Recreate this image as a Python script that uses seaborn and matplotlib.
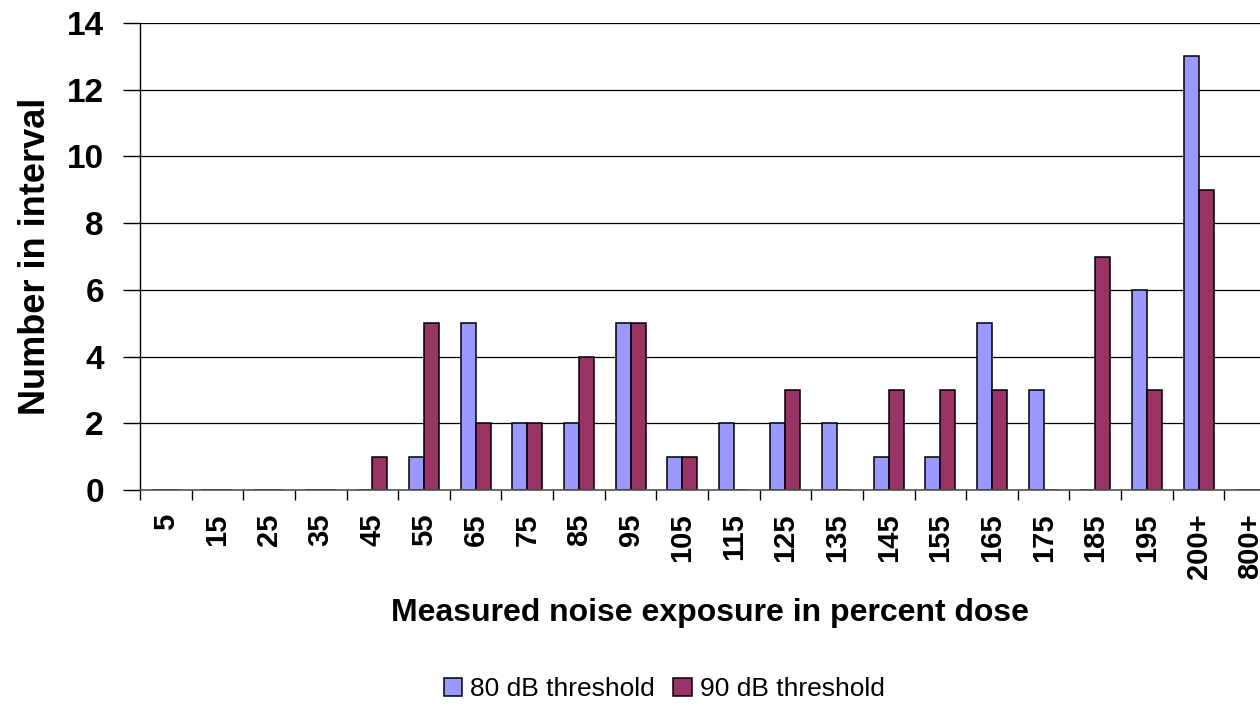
import pandas as pd
import matplotlib
matplotlib.use("Agg")
import matplotlib.pyplot as plt
import seaborn as sns

# data
categories = ["5", "15", "25", "35", "45", "55", "65", "75", "85", "95", "105",
              "115", "125", "135", "145", "155", "165", "175", "185", "195",
              "200+", "800+"]
dose_80 = [0, 0, 0, 0, 0, 1, 5, 2, 2, 5, 1, 2, 2, 2, 1, 1, 5, 3, 0, 6, 13, 0]
dose_90 = [0, 0, 0, 0, 1, 5, 2, 2, 4, 5, 1, 0, 3, 0, 3, 3, 3, 0, 7, 3, 9, 0]
series = ["80 dB threshold", "90 dB threshold"]
colors = ["#9999FF", "#993366"]

df = pd.DataFrame({
    "Interval": categories * 2,
    "Count": dose_80 + dose_90,
    "Threshold": [series[0]] * len(categories) + [series[1]] * len(categories),
})

sns.set_style("white")
plt.rcParams["font.family"] = ["Liberation Sans", "DejaVu Sans"]
plt.rcParams["text.color"] = "black"
plt.rcParams["axes.labelcolor"] = "black"
plt.rcParams["xtick.color"] = "black"
plt.rcParams["ytick.color"] = "black"

fig = plt.figure(figsize=(12.6, 7.13), dpi=100)
# plot area runs off the right edge, like the original
ax = fig.add_axes([140 / 1260, 1 - 490 / 713, (1276 - 140) / 1260, 467 / 713])

sns.barplot(data=df, x="Interval", y="Count", hue="Threshold",
            palette=colors, width=0.58, edgecolor="black", linewidth=1.1,
            saturation=1, ax=ax)

ax.set_ylim(0, 14)
ax.set_xlim(-0.5, len(categories) - 0.5)
ax.set_yticks(range(0, 15, 2))
ax.yaxis.grid(True, color="black", linewidth=0.9)
ax.set_axisbelow(True)
for s in ["top", "right"]:
    ax.spines[s].set_visible(False)
ax.spines["left"].set_color("black")
ax.spines["left"].set_linewidth(1.0)
ax.spines["bottom"].set_color("#555555")
ax.spines["bottom"].set_linewidth(1.2)

# ticks sit between the categories
ax.set_xticks([i - 0.5 for i in range(len(categories) + 1)], minor=True)
ax.tick_params(axis="x", which="minor", length=7, width=1, color="black",
               direction="out", bottom=True)
ax.tick_params(axis="x", which="major", length=0, pad=17)
ax.tick_params(axis="y", length=12, width=1, color="black", direction="out",
               left=True, pad=14)
ax.set_xticks(range(len(categories)))
ax.set_xticklabels(categories, rotation=90, fontsize=21, fontweight="bold",
                   va="top", ha="center")
for lab in ax.get_yticklabels():
    lab.set_fontsize(24)
    lab.set_fontweight("bold")

ax.set_xlabel("")
fig.text(710 / 1260, 1 - 613 / 713, "Measured noise exposure in percent dose",
         fontsize=23, fontweight="bold", ha="center", va="center")
ax.set_ylabel("Number in interval", fontsize=26, fontweight="bold", labelpad=10)

handles, labels = ax.get_legend_handles_labels()
ax.legend(handles, labels, loc="center", bbox_to_anchor=(664 / 1260, 1 - 689 / 713),
          bbox_transform=fig.transFigure, ncol=2, frameon=False, fontsize=19,
          handlelength=0.7, handleheight=0.7, handletextpad=0.3,
          columnspacing=0.7)

fig.savefig("out.png", dpi=100)
